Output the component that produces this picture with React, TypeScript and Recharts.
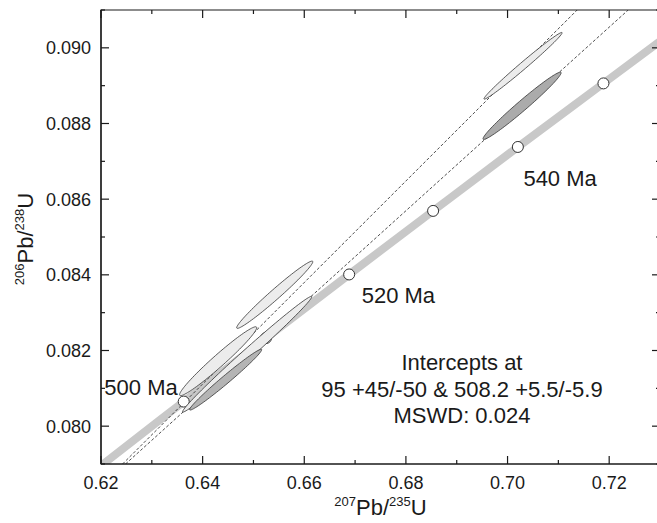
import React from "react";
import {
  ComposedChart,
  Line,
  Area,
  Scatter,
  XAxis,
  YAxis,
  ReferenceArea,
  ReferenceDot,
} from "recharts";

// concordia curve (age in Ma)
const CONCORDIA_AGE = [485, 490, 500, 510, 520, 530, 540, 550, 560];
const CONCORDIA_X = [0.61229, 0.62024, 0.63628, 0.65247, 0.66883, 0.68535, 0.70203, 0.71887, 0.73588];
const CONCORDIA_Y = [0.07814, 0.07898, 0.08065, 0.08233, 0.08401, 0.08569, 0.08738, 0.08906, 0.09076];
const MARKER_AGES = [500, 510, 520, 530, 540, 550];

// discordia lines (end points where they meet the frame)
const DISCORDIA_A_X = [0.62424, 0.71369];
const DISCORDIA_A_Y = [0.079, 0.091];
const DISCORDIA_B_X = [0.62483, 0.72374];
const DISCORDIA_B_Y = [0.079, 0.091];

// error ellipses: centre, half extent in x, slope of conjugate axis, half height at centre
const ELL_X = [0.64877, 0.64305, 0.64453, 0.65419, 0.70305, 0.70286];
const ELL_Y = [0.081902, 0.081717, 0.081229, 0.083474, 0.089525, 0.088468];
const ELL_HALF_X = [0.01271, 0.00759, 0.00709, 0.00749, 0.00769, 0.00769];
const ELL_SLOPE = [0.1195, 0.1167, 0.1117, 0.1164, 0.1135, 0.1135];
const ELL_HALF_Y = [0.000177, 0.00021, 0.000138, 0.000175, 0.000121, 0.000173];

const X_TICKS = [0.62, 0.63, 0.64, 0.65, 0.66, 0.67, 0.68, 0.69, 0.7, 0.71, 0.72, 0.73];
const X_LABELED = [0.62, 0.64, 0.66, 0.68, 0.7, 0.72];
const Y_TICKS = [0.079, 0.08, 0.081, 0.082, 0.083, 0.084, 0.085, 0.086, 0.087, 0.088, 0.089, 0.09, 0.091];
const Y_LABELED = [0.08, 0.082, 0.084, 0.086, 0.088, 0.09];

const AGE_LABELS = ["500 Ma", "520 Ma", "540 Ma"];
const INTERCEPT_LINES = ["Intercepts at", "95 +45/-50 & 508.2 +5.5/-5.9", "MSWD: 0.024"];

// layout / style
const FONT = "'Liberation Sans', Arial, Helvetica, sans-serif";
const INK = "#1a1a1a";
const PLOT_TOP = 10;
const PLOT_RIGHT = 660;
const ELL_FILL = ["#ececec", "#ececec", "#b4b4b4", "#ececec", "#ececec", "#ababab"];
const AGE_LABEL_POS = [
  [0.62788, 0.081044],
  [0.67852, 0.083461],
  [0.71034, 0.086552],
];
const INTERCEPT_X = 0.69103;
const INTERCEPT_Y = [0.081704, 0.080991, 0.080304];

const concordia = CONCORDIA_AGE.map((age, i) => ({ age, x: CONCORDIA_X[i], y: CONCORDIA_Y[i] }));
const markers = concordia.filter((p) => MARKER_AGES.includes(p.age));
const discordiaA = DISCORDIA_A_X.map((x, i) => ({ x, y: DISCORDIA_A_Y[i] }));
const discordiaB = DISCORDIA_B_X.map((x, i) => ({ x, y: DISCORDIA_B_Y[i] }));

// outline of each ellipse as a low/high band over x
const ellipses = ELL_X.map((cx, e) => {
  const n = 48;
  const pts = [];
  for (let i = 0; i <= n; i++) {
    const u = -Math.cos((Math.PI * i) / n);
    const mid = ELL_Y[e] + ELL_SLOPE[e] * ELL_HALF_X[e] * u;
    const half = ELL_HALF_Y[e] * Math.sqrt(Math.max(0, 1 - u * u));
    pts.push({ x: cx + ELL_HALF_X[e] * u, band: [mid - half, mid + half] });
  }
  return pts;
});

const near = (list: number[], v: number) => list.some((t) => Math.abs(t - v) < 1e-6);

function XTick(props: any) {
  const { x, y, payload } = props;
  const major = near(X_LABELED, payload.value);
  const len = major ? 8 : 4;
  return (
    <g>
      <line x1={x} y1={y} x2={x} y2={y - len} stroke={INK} strokeWidth={1.2} />
      <line x1={x} y1={PLOT_TOP} x2={x} y2={PLOT_TOP + len} stroke={INK} strokeWidth={1.2} />
      {major && (
        <text x={x} y={y + 25} textAnchor="middle" fontSize={18} fill={INK} fontFamily={FONT}>
          {payload.value.toFixed(2)}
        </text>
      )}
    </g>
  );
}

function YTick(props: any) {
  const { x, y, payload } = props;
  const major = near(Y_LABELED, payload.value);
  const len = major ? 8 : 4;
  return (
    <g>
      <line x1={x} y1={y} x2={x + len} y2={y} stroke={INK} strokeWidth={1.2} />
      <line x1={PLOT_RIGHT - len} y1={y} x2={PLOT_RIGHT} y2={y} stroke={INK} strokeWidth={1.2} />
      {major && (
        <text x={x - 10} y={y} dy="0.36em" textAnchor="end" fontSize={18} fill={INK} fontFamily={FONT}>
          {payload.value.toFixed(3)}
        </text>
      )}
    </g>
  );
}

function XTitle(props: any) {
  const { viewBox } = props;
  const cx = viewBox.x + viewBox.width / 2;
  const by = viewBox.y + 51;
  return (
    <text x={cx} y={by} textAnchor="middle" fontSize={22} fill={INK} fontFamily={FONT}>
      <tspan fontSize={13} dy={-9}>207</tspan>
      <tspan dy={9}>Pb/</tspan>
      <tspan fontSize={13} dy={-9}>235</tspan>
      <tspan dy={9}>U</tspan>
    </text>
  );
}

function YTitle(props: any) {
  const { viewBox } = props;
  const bx = viewBox.x + 33;
  const cy = viewBox.y + viewBox.height / 2 + 2;
  return (
    <text
      x={bx}
      y={cy}
      transform={`rotate(-90, ${bx}, ${cy})`}
      textAnchor="middle"
      fontSize={22}
      fill={INK}
      fontFamily={FONT}
    >
      <tspan fontSize={13} dy={-9}>206</tspan>
      <tspan dy={9}>Pb/</tspan>
      <tspan fontSize={13} dy={-9}>238</tspan>
      <tspan dy={9}>U</tspan>
    </text>
  );
}

function AnnText(props: any) {
  const { viewBox, text } = props;
  const cx = viewBox.x + (viewBox.width || 0) / 2;
  const cy = viewBox.y + (viewBox.height || 0) / 2;
  return (
    <text x={cx} y={cy} dy="0.36em" textAnchor="middle" fontSize={22} fill={INK} fontFamily={FONT}>
      {text}
    </text>
  );
}

const MarkerDot = (props: any) => (
  <circle cx={props.cx} cy={props.cy} r={5.5} fill="#fff" stroke="#333" strokeWidth={1} />
);

export default function App() {
  return (
    <div
      style={{
        position: "fixed",
        left: 0,
        top: 0,
        width: 657,
        height: 523,
        overflow: "hidden",
        background: "#fff",
      }}
    >
      <ComposedChart width={670} height={523} margin={{ top: PLOT_TOP, right: 10, bottom: 0, left: 0 }}>
        <Line
          data={concordia}
          dataKey="y"
          type="monotone"
          stroke="#c8c8c8"
          strokeWidth={8}
          dot={false}
          activeDot={false}
          isAnimationActive={false}
          zIndex={101}
        />
        <Line
          data={discordiaA}
          dataKey="y"
          type="linear"
          stroke="#222"
          strokeWidth={0.8}
          strokeDasharray="3 2"
          dot={false}
          activeDot={false}
          isAnimationActive={false}
          zIndex={102}
        />
        <Line
          data={discordiaB}
          dataKey="y"
          type="linear"
          stroke="#222"
          strokeWidth={0.8}
          strokeDasharray="3 2"
          dot={false}
          activeDot={false}
          isAnimationActive={false}
          zIndex={103}
        />
        <Scatter
          data={markers}
          dataKey="y"
          shape={MarkerDot}
          isAnimationActive={false}
          zIndex={104}
        />
        {ellipses.map((pts, i) => (
          <Area
            key={i}
            data={pts}
            dataKey="band"
            type="linear"
            stroke="#333"
            strokeWidth={0.8}
            fill={ELL_FILL[i]}
            fillOpacity={1}
            dot={false}
            activeDot={false}
            isAnimationActive={false}
            zIndex={110 + i}
          />
        ))}
        {AGE_LABELS.map((t, i) => (
          <ReferenceDot
            key={t}
            x={AGE_LABEL_POS[i][0]}
            y={AGE_LABEL_POS[i][1]}
            r={0}
            fill="none"
            stroke="none"
            label={<AnnText text={t} />}
            zIndex={130}
          />
        ))}
        {INTERCEPT_LINES.map((t, i) => (
          <ReferenceDot
            key={t}
            x={INTERCEPT_X}
            y={INTERCEPT_Y[i]}
            r={0}
            fill="none"
            stroke="none"
            label={<AnnText text={t} />}
            zIndex={130}
          />
        ))}
        <ReferenceArea
          x1={0.62}
          x2={0.73}
          y1={0.079}
          y2={0.091}
          fill="none"
          fillOpacity={0}
          stroke={INK}
          strokeWidth={1.2}
          zIndex={140}
        />
        <XAxis
          dataKey="x"
          type="number"
          domain={[0.62, 0.73]}
          allowDataOverflow
          ticks={X_TICKS}
          interval={0}
          tickSize={0}
          tickMargin={0}
          tick={<XTick />}
          axisLine={{ stroke: INK, strokeWidth: 1.2 }}
          height={59}
          label={<XTitle />}
        />
        <YAxis
          type="number"
          domain={[0.079, 0.091]}
          allowDataOverflow
          ticks={Y_TICKS}
          interval={0}
          tickSize={0}
          tickMargin={0}
          tick={<YTick />}
          axisLine={{ stroke: INK, strokeWidth: 1.2 }}
          width={101}
          label={<YTitle />}
        />
      </ComposedChart>
    </div>
  );
}
